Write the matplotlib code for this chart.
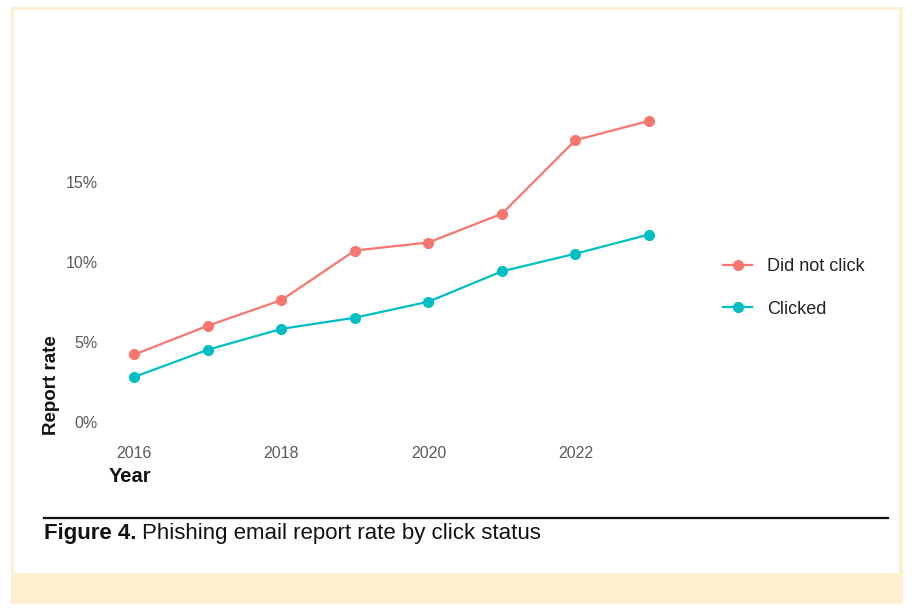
import matplotlib
matplotlib.use("Agg")
import matplotlib.pyplot as plt
from matplotlib.patches import Rectangle
from matplotlib.lines import Line2D

plt.rcParams['font.family'] = ['Liberation Sans', 'DejaVu Sans']

years = [2016, 2017, 2018, 2019, 2020, 2021, 2022, 2023]
did_not_click = [4.2, 6.0, 7.6, 10.7, 11.2, 13.0, 17.6, 18.8]
clicked = [2.8, 4.5, 5.8, 6.5, 7.5, 9.4, 10.5, 11.7]
series_names = ["Did not click", "Clicked"]
x_ticks = [2016, 2018, 2020, 2022]
y_ticks = [0, 5, 10, 15]
y_tick_labels = ["0%", "5%", "10%", "15%"]

W, H = 915, 611
fig = plt.figure(figsize=(W / 100, H / 100), dpi=100)
fig.patch.set_facecolor("white")

def px(x0, y0, x1, y1):
    return (x0 / W, 1 - y1 / H, (x1 - x0) / W, (y1 - y0) / H)

cream = "#FDF0CE"
# frame
l, b, w, h = px(10.5, 7, 903, 604)
fig.add_artist(Rectangle((l, b), w, h, transform=fig.transFigure, facecolor=cream, edgecolor="none", zorder=0))
l, b, w, h = px(14, 10, 899, 573)
fig.add_artist(Rectangle((l, b), w, h, transform=fig.transFigure, facecolor="white", edgecolor="none", zorder=0))

# axes
ax = fig.add_axes(px(108.7, 105.9, 674.7, 436.7))
ax.set_facecolor("none")
c1, c2 = "#F8766D", "#00BFC4"
ax.plot(years, did_not_click, color=c1, lw=1.6, marker="o", ms=7, label=series_names[0])
ax.plot(years, clicked, color=c2, lw=1.6, marker="o", ms=7, label=series_names[1])
ax.set_xlim(2015.65, 2023.35)
ax.set_ylim(-0.94, 19.74)
for s in ax.spines.values():
    s.set_visible(False)
ax.set_xticks(x_ticks)
ax.set_xticklabels([str(t) for t in x_ticks])
ax.set_yticks(y_ticks)
ax.set_yticklabels(y_tick_labels)
ax.tick_params(length=0, labelsize=11.5, colors="#5a5a5a", pad=0)
ax.tick_params(axis="x", pad=7)
ax.tick_params(axis="y", pad=8)

fig.text(52 / W, 1 - 435 / H, "Report rate", rotation=90, ha="center", va="bottom",
         fontsize=13.5, fontweight="bold", color="#111111")
fig.text(109 / W, 1 - 477 / H, "Year", ha="left", va="center",
         fontsize=14.5, fontweight="bold", color="#111111")

handles = [Line2D([], [], color=c1, lw=1.6, marker="o", ms=7),
           Line2D([], [], color=c2, lw=1.6, marker="o", ms=7)]
fig.legend(handles, series_names, loc="center left", bbox_to_anchor=(707 / W, 1 - 288 / H),
           frameon=False, fontsize=13, labelcolor="#222222", handlelength=1.6,
           handletextpad=0.85, labelspacing=1.4)

# rule
fig.add_artist(Line2D([44 / W, 888 / W], [1 - 518 / H, 1 - 518 / H], transform=fig.transFigure,
                      color="#111111", lw=1.6))
t1 = fig.text(44 / W, 1 - 534 / H, "Figure 4.", ha="left", va="center", fontsize=16,
              fontweight="bold", color="#111111")
fig.canvas.draw()
bb = t1.get_window_extent()
fig.text(bb.x1 / W + 6 / W, 1 - 534 / H, "Phishing email report rate by click status", ha="left",
         va="center", fontsize=16, color="#111111")

fig.savefig("out.png", dpi=100)
